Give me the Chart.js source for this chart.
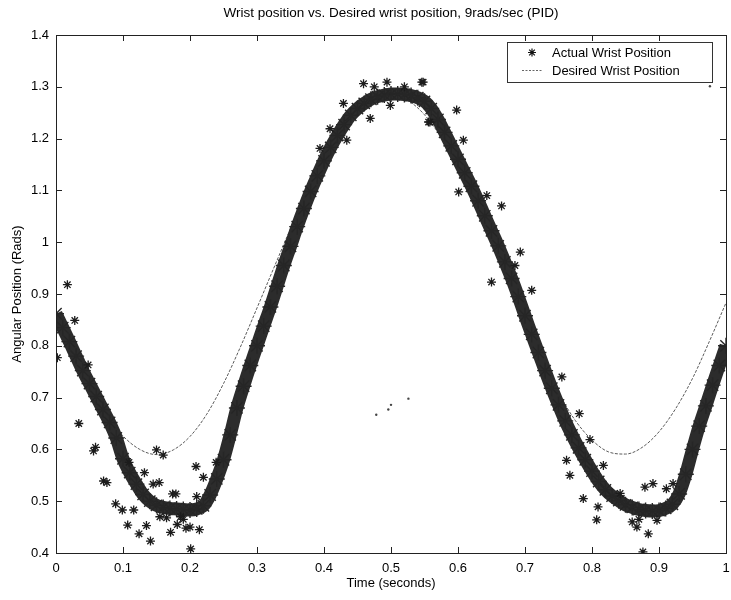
<!DOCTYPE html>
<html>
<head>
<meta charset="utf-8">
<script src="https://cdn.jsdelivr.net/npm/chart.js"></script>
<style>
  html, body { margin: 0; padding: 0; background: #fff; }
  #wrap { width: 731px; height: 600px; }
</style>
</head>
<body>
<div id="wrap"><canvas id="wristChart" width="731" height="600"></canvas></div>
<script>
// --- valores ---
const actualTime = [
  0.00, 0.01, 0.02, 0.03, 0.04, 0.05, 0.06, 0.07, 0.08, 0.09,
  0.10, 0.11, 0.12, 0.13, 0.14, 0.15, 0.16, 0.17, 0.18, 0.19,
  0.20, 0.21, 0.22, 0.23, 0.24, 0.25, 0.26, 0.27, 0.28, 0.29,
  0.30, 0.31, 0.32, 0.33, 0.34, 0.35, 0.36, 0.37, 0.38, 0.39,
  0.40, 0.41, 0.42, 0.43, 0.44, 0.45, 0.46, 0.47, 0.48, 0.49,
  0.50, 0.51, 0.52, 0.53, 0.54, 0.55, 0.56, 0.57, 0.58, 0.59,
  0.60, 0.61, 0.62, 0.63, 0.64, 0.65, 0.66, 0.67, 0.68, 0.69,
  0.70, 0.71, 0.72, 0.73, 0.74, 0.75, 0.76, 0.77, 0.78, 0.79,
  0.80, 0.81, 0.82, 0.83, 0.84, 0.85, 0.86, 0.87, 0.88, 0.89,
  0.90, 0.91, 0.92, 0.93, 0.94, 0.95, 0.96, 0.97, 0.98, 0.99,
  1.00
];
const actualPos = [
  0.862, 0.835, 0.808, 0.780, 0.752, 0.727, 0.702, 0.677, 0.652, 0.622,
  0.582, 0.555, 0.533, 0.513, 0.500, 0.492, 0.488, 0.486, 0.485, 0.484,
  0.483, 0.485, 0.491, 0.512, 0.543, 0.580, 0.628, 0.680, 0.722, 0.762,
  0.800, 0.838, 0.875, 0.915, 0.955, 0.992, 1.030, 1.065, 1.098, 1.128,
  1.157, 1.183, 1.206, 1.227, 1.245, 1.258, 1.268, 1.276, 1.281, 1.284,
  1.286, 1.286, 1.285, 1.283, 1.279, 1.272, 1.258, 1.237, 1.212, 1.186,
  1.160, 1.134, 1.108, 1.080, 1.051, 1.022, 0.993, 0.962, 0.930, 0.895,
  0.858, 0.822, 0.787, 0.752, 0.718, 0.686, 0.655, 0.628, 0.603, 0.580,
  0.558, 0.538, 0.522, 0.510, 0.501, 0.493, 0.488, 0.484, 0.482, 0.481,
  0.482, 0.486, 0.494, 0.514, 0.552, 0.600, 0.645, 0.684, 0.724, 0.762,
  0.800
];

// pontos soltos (asteriscos fora da faixa principal)
const strayTime = [
  0.017, 0.002, 0.028, 0.048, 0.034, 0.056, 0.059, 0.071, 0.076, 0.089,
  0.099, 0.107, 0.116, 0.124, 0.132, 0.141, 0.135, 0.145, 0.154, 0.150,
  0.160, 0.109, 0.171, 0.174, 0.179, 0.181, 0.194, 0.201, 0.209, 0.220,
  0.214, 0.210, 0.239, 0.200, 0.165, 0.190, 0.155, 0.186,
  0.459, 0.494, 0.546, 0.429, 0.409, 0.434, 0.469, 0.499, 0.556, 0.394, 0.520, 0.475,
  0.548, 0.598, 0.558, 0.601, 0.665, 0.643, 0.693, 0.685, 0.650, 0.710, 0.608,
  0.755, 0.781, 0.797, 0.767, 0.762, 0.787, 0.817, 0.809, 0.807, 0.867,
  0.884, 0.876, 0.879, 0.891, 0.911, 0.921, 0.842, 0.897, 0.860, 0.870
];
const strayPos = [
  0.918, 0.777, 0.849, 0.763, 0.650, 0.597, 0.604, 0.539, 0.536, 0.495,
  0.483, 0.454, 0.483, 0.437, 0.555, 0.423, 0.453, 0.533, 0.536, 0.599,
  0.589, 0.575, 0.440, 0.514, 0.514, 0.455, 0.448, 0.408, 0.567, 0.546,
  0.445, 0.509, 0.575, 0.450, 0.468, 0.465, 0.470, 0.470,
  1.306, 1.309, 1.309, 1.268, 1.219, 1.197, 1.239, 1.264, 1.232, 1.181, 1.300, 1.300,
  1.309, 1.255, 1.232, 1.097, 1.070, 1.090, 0.981, 0.955, 0.923, 0.907, 1.197,
  0.740, 0.669, 0.619, 0.550, 0.579, 0.505, 0.569, 0.489, 0.464, 0.450,
  0.437, 0.402, 0.527, 0.534, 0.524, 0.534, 0.515, 0.463, 0.460, 0.465
];

// pontinhos isolados
const dotTime = [0.478, 0.496, 0.500, 0.526, 0.976];
const dotPos = [0.667, 0.677, 0.686, 0.698, 1.301];

const desiredTime = [
  0.000, 0.025, 0.050, 0.075, 0.100, 0.125, 0.150, 0.175, 0.200, 0.225,
  0.250, 0.275, 0.300, 0.325, 0.350, 0.375, 0.400, 0.425, 0.450, 0.475,
  0.500, 0.525, 0.550, 0.575, 0.600, 0.625, 0.650, 0.675, 0.700, 0.725,
  0.750, 0.775, 0.800, 0.825, 0.850, 0.875, 0.900, 0.925, 0.950, 0.975,
  1.000
];
const desiredPos = [
  0.868, 0.792, 0.725, 0.668, 0.626, 0.600, 0.590, 0.599, 0.625, 0.668,
  0.727, 0.797, 0.873, 0.950, 1.026, 1.098, 1.162, 1.215, 1.255, 1.278,
  1.285, 1.274, 1.246, 1.202, 1.144, 1.077, 1.002, 0.923, 0.846, 0.773,
  0.709, 0.656, 0.618, 0.595, 0.591, 0.604, 0.634, 0.679, 0.737, 0.808,
  0.883
];

const xTicks = [0, 0.1, 0.2, 0.3, 0.4, 0.5, 0.6, 0.7, 0.8, 0.9, 1];
const xTickLabels = ['0', '0.1', '0.2', '0.3', '0.4', '0.5', '0.6', '0.7', '0.8', '0.9', '1'];
const yTicks = [0.4, 0.5, 0.6, 0.7, 0.8, 0.9, 1, 1.1, 1.2, 1.3, 1.4];
const yTickLabels = ['0.4', '0.5', '0.6', '0.7', '0.8', '0.9', '1', '1.1', '1.2', '1.3', '1.4'];

const seriesNames = ['Actual Wrist Position', 'Desired Wrist Position'];
const chartTitle = 'Wrist position vs. Desired wrist position, 9rads/sec (PID)';

const FONT = '"Liberation Sans", Arial, Helvetica, sans-serif';
const toPoints = (xs, ys) => xs.map((x, i) => ({ x: x, y: ys[i] }));

// --- moldura estilo MATLAB: caixa, marcas internas, título e legenda ---
function drawStar(ctx, cx, cy, r) {
  ctx.beginPath();
  for (let k = 0; k < 4; k++) {
    const a = k * Math.PI / 4;
    ctx.moveTo(cx - r * Math.cos(a), cy - r * Math.sin(a));
    ctx.lineTo(cx + r * Math.cos(a), cy + r * Math.sin(a));
  }
  ctx.stroke();
}

const framePlugin = {
  id: 'frame',
  afterDraw(chart) {
    const { ctx, chartArea: a, scales: { x, y } } = chart;
    ctx.save();
    ctx.strokeStyle = '#222';
    ctx.lineWidth = 1;
    ctx.strokeRect(Math.round(a.left) + 0.5, Math.round(a.top) + 0.5,
      Math.round(a.right - a.left), Math.round(a.bottom - a.top));

    ctx.beginPath();
    xTicks.forEach(v => {
      const px = Math.round(x.getPixelForValue(v)) + 0.5;
      ctx.moveTo(px, a.bottom); ctx.lineTo(px, a.bottom - 6);
      ctx.moveTo(px, a.top); ctx.lineTo(px, a.top + 6);
    });
    yTicks.forEach(v => {
      const py = Math.round(y.getPixelForValue(v)) + 0.5;
      ctx.moveTo(a.left, py); ctx.lineTo(a.left + 6, py);
      ctx.moveTo(a.right, py); ctx.lineTo(a.right - 6, py);
    });
    ctx.stroke();

    // título centrado sobre a área do gráfico
    ctx.fillStyle = '#000';
    ctx.font = '13.5px ' + FONT;
    ctx.textAlign = 'center';
    ctx.textBaseline = 'middle';
    ctx.fillText(chartTitle, (a.left + a.right) / 2, 13);

    // legenda
    const lx = 507.5, ly = 42.5, lw = 205, lh = 40;
    ctx.fillStyle = '#fff';
    ctx.fillRect(lx, ly, lw, lh);
    ctx.strokeStyle = '#333';
    ctx.strokeRect(lx, ly, lw, lh);

    ctx.strokeStyle = '#111';
    ctx.lineWidth = 1.2;
    drawStar(ctx, 532, 52.5, 4);

    ctx.strokeStyle = '#666';
    ctx.lineWidth = 1;
    ctx.setLineDash([2, 1.5]);
    ctx.beginPath();
    ctx.moveTo(522, 70.5); ctx.lineTo(543, 70.5);
    ctx.stroke();
    ctx.setLineDash([]);

    ctx.fillStyle = '#000';
    ctx.font = '13px ' + FONT;
    ctx.textAlign = 'left';
    ctx.fillText(seriesNames[0], 552, 53);
    ctx.fillText(seriesNames[1], 552, 71);
    ctx.restore();
  }
};

const ctx = document.getElementById('wristChart').getContext('2d');
new Chart(ctx, {
  type: 'scatter',
  data: {
    datasets: [
      {
        label: 'stray',
        data: toPoints(strayTime, strayPos),
        pointStyle: 'star',
        pointRadius: 4.5,
        pointBorderWidth: 1.3,
        pointBorderColor: '#1c1c1c',
        showLine: false,
        clip: 0,
        order: 0
      },
      {
        label: seriesNames[0],
        data: toPoints(actualTime, actualPos),
        showLine: true,
        tension: 0.3,
        borderColor: '#2c2c2c',
        borderWidth: 13,
        pointStyle: 'star',
        pointRadius: 8,
        pointBorderWidth: 1.4,
        pointBorderColor: '#262626',
        clip: 0,
        order: 1
      },
      {
        label: seriesNames[1],
        data: toPoints(desiredTime, desiredPos),
        showLine: true,
        cubicInterpolationMode: 'monotone',
        borderColor: '#5a5a5a',
        borderWidth: 1,
        borderDash: [3, 1.5],
        pointRadius: 0,
        clip: 0,
        order: 2
      },
      {
        label: 'dots',
        data: toPoints(dotTime, dotPos),
        showLine: false,
        pointStyle: 'circle',
        pointRadius: 1.2,
        pointBackgroundColor: '#444',
        pointBorderWidth: 0,
        order: 3
      }
    ]
  },
  options: {
    responsive: false,
    animation: false,
    layout: { autoPadding: false, padding: { left: 6, right: 5, top: 35, bottom: 9 } },
    plugins: {
      legend: { display: false },
      tooltip: { enabled: false },
      title: { display: false }
    },
    scales: {
      x: {
        type: 'linear', min: 0, max: 1,
        grid: { display: false, drawTicks: true, tickLength: 8 },
        border: { display: false },
        afterBuildTicks: axis => { axis.ticks = xTicks.map(v => ({ value: v })); },
        afterFit: axis => { axis.height = 38; axis.paddingLeft = 0; axis.paddingRight = 0; },
        ticks: {
          padding: 0, color: '#000', maxRotation: 0, autoSkip: false,
          font: { family: FONT, size: 13 },
          callback: (v, i) => xTickLabels[i]
        },
        title: {
          display: true, text: 'Time (seconds)', color: '#000',
          font: { family: FONT, size: 13 }, padding: 0
        }
      },
      y: {
        type: 'linear', min: 0.4, max: 1.4,
        grid: { display: false, drawTicks: false },
        border: { display: false },
        afterBuildTicks: axis => { axis.ticks = yTicks.map(v => ({ value: v })); },
        afterFit: axis => { axis.width = 50; axis.paddingTop = 0; axis.paddingBottom = 0; },
        ticks: {
          padding: 7, color: '#000', autoSkip: false,
          font: { family: FONT, size: 13 },
          callback: (v, i) => yTickLabels[i]
        },
        title: {
          display: true, text: 'Angular Position (Rads)', color: '#000',
          font: { family: FONT, size: 13 }, padding: { top: 4, bottom: 0 }
        }
      }
    }
  },
  plugins: [framePlugin]
});
</script>
</body>
</html>
